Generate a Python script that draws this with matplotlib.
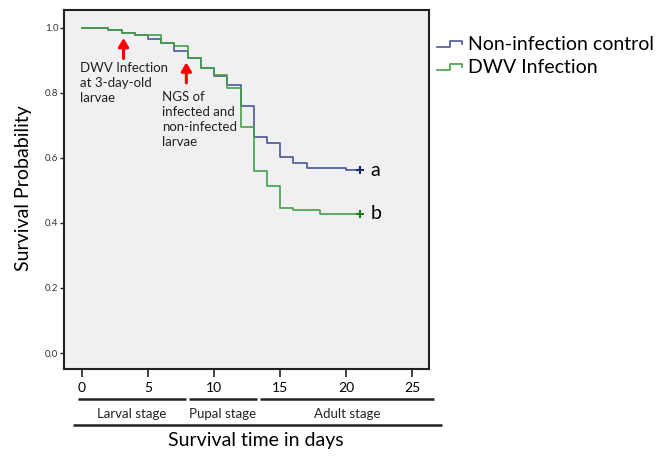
import numpy as np
import matplotlib
matplotlib.use("Agg")
import matplotlib.pyplot as plt
from matplotlib.legend_handler import HandlerBase
from matplotlib.lines import Line2D
import matplotlib.transforms as mtransforms

plt.rcParams["font.family"] = ["Lato", "DejaVu Sans"]

# Kaplan-Meier step values
days_ctrl = [0, 2, 3, 4, 5, 6, 7, 8, 9, 10, 11, 12, 13, 14, 15, 16, 17, 20, 21]
surv_ctrl = [1.0, 0.994, 0.982, 0.976, 0.964, 0.953, 0.927, 0.905, 0.876, 0.85,
             0.825, 0.758, 0.665, 0.646, 0.603, 0.585, 0.569, 0.562, 0.562]
days_dwv = [0, 2, 3, 4, 6, 7, 8, 9, 10, 11, 12, 13, 14, 15, 16, 18, 21]
surv_dwv = [1.0, 0.994, 0.982, 0.978, 0.953, 0.943, 0.905, 0.876, 0.853, 0.815,
            0.694, 0.56, 0.514, 0.446, 0.441, 0.428, 0.428]

series_labels = ["Non-infection control", "DWV Infection"]
group_letters = ["a", "b"]
stages = ["Larval stage", "Pupal stage", "Adult stage"]
stage_bounds = [(-0.3, 7.9), (8.1, 13.25), (13.5, 26.6)]
x_ticks = [0, 5, 10, 15, 20, 25]
y_ticks = [0.0, 0.2, 0.4, 0.6, 0.8, 1.0]

blue = "#4a5796"
blue_dark = "#1f2a6b"
green = "#45a045"
green_dark = "#1f7a1f"


class StepHandler(HandlerBase):
    def create_artists(self, legend, orig_handle, xdescent, ydescent,
                       width, height, fontsize, trans):
        xs = np.array([0.0, 0.45, 0.45, 0.9, 0.9]) * width - xdescent
        ys = np.array([0.2, 0.2, 0.65, 0.65, 0.45]) * height - ydescent
        ln = Line2D(xs, ys, color=orig_handle.get_color(), lw=1.2,
                    transform=trans)
        return [ln]


fig = plt.figure(figsize=(6.56, 4.58), dpi=100)
ax = fig.add_axes([64 / 656, 1 - 369 / 458, 365 / 656, 359 / 458])
ax.set_facecolor("#f0f0f2")

l1, = ax.step(days_ctrl, surv_ctrl, where="post", color=blue, lw=1.2)
l2, = ax.step(days_dwv, surv_dwv, where="post", color=green, lw=1.2)
ax.plot(days_ctrl[-1], surv_ctrl[-1], marker="+", ms=6, mew=1.5, color=blue_dark)
ax.plot(days_dwv[-1], surv_dwv[-1], marker="+", ms=6, mew=1.5, color=green_dark)

ax.text(days_ctrl[-1] + 0.8, surv_ctrl[-1], group_letters[0], fontsize=14,
        va="center", ha="left")
ax.text(days_dwv[-1] + 0.8, surv_dwv[-1], group_letters[1], fontsize=14,
        va="center", ha="left")

# red arrows with notes
arrow = dict(arrowstyle="-|>,head_width=0.3,head_length=0.5", color="red",
             lw=2.2, shrinkA=0, shrinkB=0)
ax.annotate("", xy=(3.15, 0.968), xytext=(3.15, 0.905), arrowprops=arrow)
ax.annotate("", xy=(7.9, 0.893), xytext=(7.9, 0.83), arrowprops=arrow)
ax.text(-0.15, 0.895, "DWV Infection\nat 3-day-old\nlarvae", fontsize=9.5,
        va="top", ha="left", linespacing=1.3, color="#222222")
ax.text(6.05, 0.805, "NGS of\ninfected and\nnon-infected\nlarvae", fontsize=9.5,
        va="top", ha="left", linespacing=1.3, color="#222222")

ax.set_xlim(-1.35, 26.25)
ax.set_ylim(-0.049, 1.054)
ax.set_xticks(x_ticks)
ax.set_yticks(y_ticks)
ax.set_yticklabels([f"{v:.1f}" for v in y_ticks])
ax.tick_params(axis="x", length=6, width=1.2, labelsize=10, pad=3,
               color="#222222")
ax.tick_params(axis="y", length=3, width=1, labelsize=7, pad=1,
               color="#222222", labelcolor="#333333")
for sp in ax.spines.values():
    sp.set_color("#222222")
    sp.set_linewidth(1.5)

# stage bars under the x axis
trans = mtransforms.blended_transform_factory(ax.transData, ax.transAxes)
for name, (a, b) in zip(stages, stage_bounds):
    ax.plot([a, b], [-0.0836, -0.0836], transform=trans, color="#222222",
            lw=1.8, clip_on=False, solid_capstyle="butt")
    ax.text((a + b) / 2, -0.125, name, transform=trans, fontsize=9.5,
            ha="center", va="center", color="#222222")
ax.plot([-0.7, 27.2], [-0.156, -0.156], transform=trans, color="#222222",
        lw=1.8, clip_on=False, solid_capstyle="butt")

ax.text(0.526, -0.198, "Survival time in days", transform=ax.transAxes,
        fontsize=14, ha="center", va="center")
ax.text(-0.111, 0.505, "Survival Probability", transform=ax.transAxes,
        fontsize=14, ha="center", va="center", rotation=90)

fig.legend([l1, l2], series_labels, loc="upper left",
           bbox_to_anchor=(437 / 656, 1 - 36 / 458), frameon=False,
           fontsize=14, handler_map={Line2D: StepHandler()},
           handlelength=1.45, handletextpad=0.15, labelspacing=0.3,
           borderpad=0, borderaxespad=0)

fig.savefig("out.png", dpi=100)
